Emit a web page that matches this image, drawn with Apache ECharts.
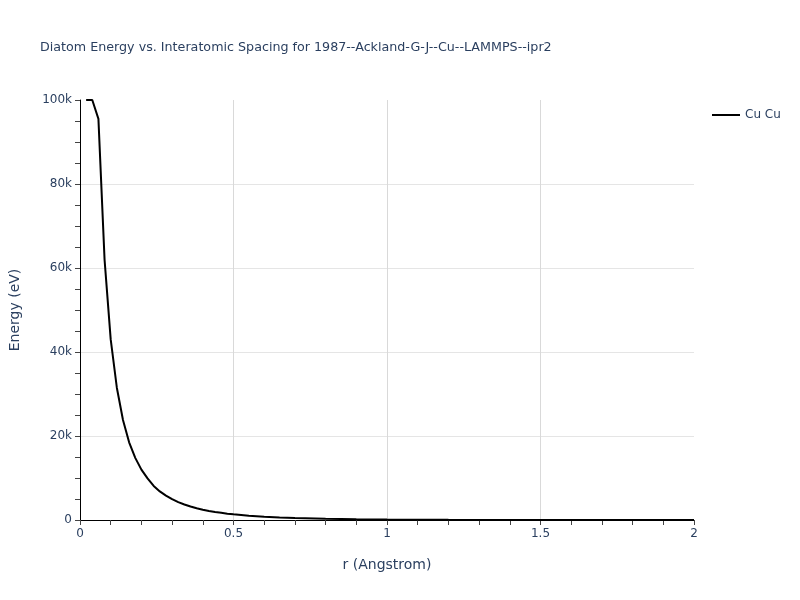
<!DOCTYPE html>
<html>
<head>
<meta charset="utf-8">
<script src="https://cdn.jsdelivr.net/npm/echarts@6/dist/echarts.min.js"></script>
<style>html,body{margin:0;padding:0;background:#fff}#c{width:800px;height:600px}</style>
</head>
<body>
<div id="c"></div>
<script>
const titleText = "Diatom Energy vs. Interatomic Spacing for 1987--Ackland-G-J--Cu--LAMMPS--ipr2";
const seriesName = "Cu Cu";
const rValues = [0.02,0.04,0.06,0.08,0.10,0.12,0.14,0.16,0.18,0.20,0.22,0.24,0.26,0.28,0.30,0.32,0.34,0.36,0.38,0.40,0.42,0.44,0.46,0.48,0.50,0.55,0.60,0.65,0.70,0.80,0.90,1.00,1.20,1.40,1.60,1.80,2.00];
const energyValues = [100000,100000,95500,62000,43000,31500,23800,18500,14800,12000,9900,8100,6800,5800,4950,4250,3700,3200,2800,2450,2150,1900,1700,1500,1350,1000,780,600,470,300,190,120,50,20,5,0,-2];
const xTicks = [0,0.5,1,1.5,2];
const yTicks = [0,20000,40000,60000,80000,100000];

const chart = echarts.init(document.getElementById('c'), null, {renderer:'canvas'});
const textColor = '#2a3f5f';
const ff = 'DejaVu Sans, Verdana, sans-serif';
chart.setOption({
  animation:false,
  backgroundColor:'#fff',
  title:{text:titleText,left:35,top:36,textStyle:{fontFamily:ff,fontSize:12.7,fontWeight:'normal',color:textColor}},
  legend:{show:true,left:707,top:104,icon:'path://M0,0 L28,0 L28,2 L0,2 Z',itemWidth:28,itemHeight:2,itemGap:6,
    textStyle:{fontFamily:ff,fontSize:12,color:textColor},data:[seriesName]},
  grid:{left:80,right:106,top:100,bottom:80},
  xAxis:{type:'value',min:xTicks[0],max:xTicks[xTicks.length-1],interval:0.5,
    name:'r (Angstrom)',nameLocation:'middle',nameGap:38,
    nameTextStyle:{fontFamily:ff,fontSize:14,color:textColor},
    axisLine:{show:true,onZero:false,lineStyle:{color:'#000',width:1}},
    axisTick:{show:true,length:5,lineStyle:{color:'#444'}},
    minorTick:{show:true,splitNumber:5,length:5,lineStyle:{color:'#444'}},
    axisLabel:{fontFamily:ff,fontSize:12,color:textColor,margin:8,formatter:v=>String(v)},
    splitLine:{show:true,showMinLine:false,showMaxLine:false,lineStyle:{color:'#d9d9d9',width:1}}},
  yAxis:{type:'value',min:yTicks[0],max:yTicks[yTicks.length-1],interval:20000,
    name:'Energy (eV)',nameLocation:'middle',nameGap:58,
    nameTextStyle:{fontFamily:ff,fontSize:14,color:textColor},
    axisLine:{show:true,onZero:false,lineStyle:{color:'#000',width:1}},
    axisTick:{show:true,length:5,lineStyle:{color:'#444'}},
    minorTick:{show:true,splitNumber:4,length:5,lineStyle:{color:'#444'}},
    axisLabel:{fontFamily:ff,fontSize:12,color:textColor,margin:8,
      formatter:v=>v===0?'0':(v/1000)+'k'},
    splitLine:{show:true,showMinLine:false,showMaxLine:false,lineStyle:{color:'#e5e5e5',width:1}}},
  series:[{name:seriesName,type:'line',showSymbol:false,symbol:'none',clip:true,
    lineStyle:{color:'#000',width:2},itemStyle:{color:'#000'},
    data:rValues.map((r,i)=>[r,energyValues[i]])}]
});
</script>
</body>
</html>
